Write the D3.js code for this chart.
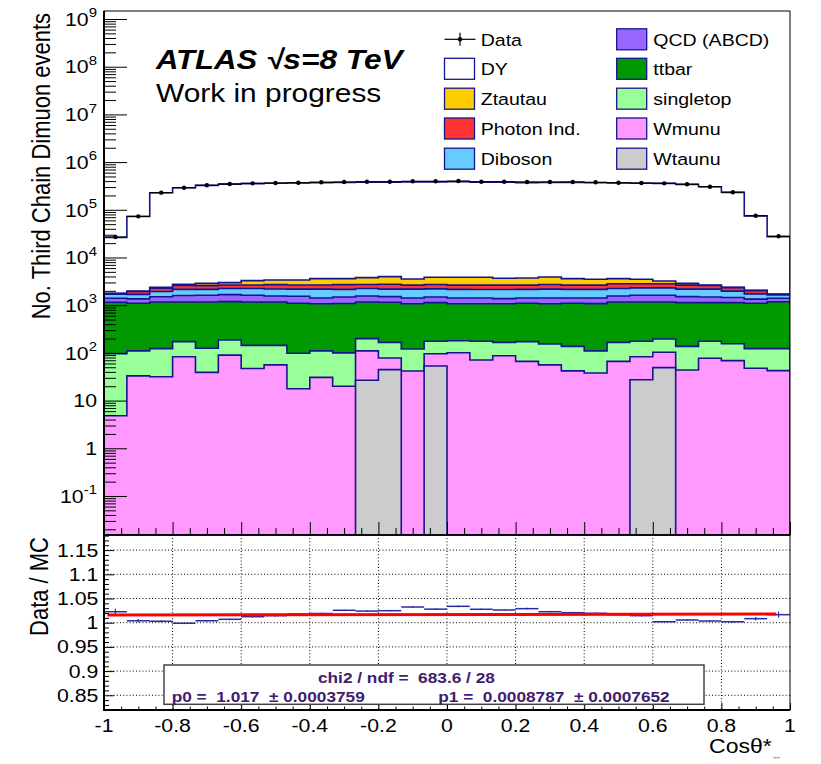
<!DOCTYPE html>
<html>
<head>
<meta charset="utf-8">
<script src="https://cdn.jsdelivr.net/npm/d3@7"></script>
<style>
  html, body { margin: 0; padding: 0; background: #fff; }
  svg { display: block; }
  text { font-family: "Liberation Sans", Arial, Helvetica, sans-serif; white-space: pre; }
</style>
</head>
<body>
<svg id="chart" width="821" height="764"></svg>
<script>
// ---- binning: 30 equal bins of cos(theta*) on [-1, 1] ----
const nBins = 30;
const binEdges = d3.range(nBins + 1).map(i => -1 + 2 * i / nBins);

// ---- events per bin ----
const dataCounts = [26900, 72900, 228600, 290600, 326000, 347500, 359000, 364700, 370000, 377500,
                    383000, 388500, 388500, 395500, 395500, 401500, 388500, 388500, 383000, 383000,
                    383000, 377500, 370000, 364700, 359000, 342700, 305000, 232900, 75100, 27800];
const dyCounts = [24530, 70630, 225550, 288210, 321830, 342120, 351330, 356110, 360080, 366860,
                  369840, 375620, 375130, 379540, 380890, 384530, 374190, 374920, 368490, 370600,
                  371630, 366830, 360360, 356000, 355070, 337920, 301280, 230070, 72430, 25630];
const ztautauCounts = [28, 47, 112, 130, 307, 317, 617, 682, 725, 949, 906, 1063, 1227, 914, 1124,
                       1211, 1211, 1030, 1089, 1186, 971, 857, 795, 681, 411, 244, 64, 38, 33, 27];
const photonCounts = [42, 248, 320, 458, 416, 413, 413, 509, 483, 483, 544, 478, 570, 461, 513,
                      479, 496, 496, 479, 548, 479, 479, 567, 493, 493, 461, 419, 363, 286, 53];
const dibosonCounts = [310, 330, 440, 553, 540, 576, 628, 626, 634, 753, 665, 679, 659, 753, 718,
                       735, 718, 762, 735, 753, 735, 735, 679, 702, 702, 659, 683, 518, 392, 243];
const qcdCounts = [245, 265, 331, 431, 444, 477, 444, 393, 440, 347, 400, 393, 361, 347, 356,
                   347, 347, 303, 321, 347, 321, 339, 393, 444, 444, 380, 356, 321, 244, 217];
const ttbarCounts = [1053, 985, 1044, 995, 1042, 1000, 1023, 1023, 997, 959, 986, 968, 983, 948, 955,
                     889, 894, 903, 923, 915, 958, 967, 1001, 992, 972, 993, 955, 974, 972, 1054];
const singletopCounts = [91.2, 77, 91.3, 89, 86, 96, 97, 88, 80.3, 79.3, 80, 89, 88, 79.3, 79,
                         79, 104, 79, 105.5, 98, 95, 72, 99.5, 92, 92, 93.1, 98, 87.3, 75.5, 80.6];
const wmunuCounts = [4.8, 33, 31.7, 83, 39, 90, 47, 56, 17.7, 30.7, 20, 83.4, 33.5, 41.7, 43,
                     101, 71, 87, 66.5, 56, 42, 38, 66.5, 55.6, 54, 43.9, 77, 68.7, 47.5, 42.4];
const wtaunuCounts = [0, 0, 0, 0, 0, 0, 0, 0, 0, 0, 0, 26.6, 44.5, 0, 53,
                      0, 0, 0, 0, 0, 0, 0, 0, 27.4, 49, 0, 0, 0, 0, 0];

// linear fit to Data/MC
const fitP0 = 1.017, fitP0Err = "0.0003759";
const fitP1 = 0.0008787, fitP1Err = "0.0007652";
const fitChi2 = "683.6", fitNdf = "28";
const fitRange = [-0.99, 0.96];

// axis ticks and labels
const yMainExponents = [-1, 0, 1, 2, 3, 4, 5, 6, 7, 8, 9];
const ratioTicks = [0.85, 0.9, 0.95, 1, 1.05, 1.1, 1.15];
const ratioTickLabels = ["0.85", "0.9", "0.95", "1", "1.05", "1.1", "1.15"];
const xTicks = [-1, -0.8, -0.6, -0.4, -0.2, 0, 0.2, 0.4, 0.6, 0.8, 1];
const xTickLabels = ["-1", "-0.8", "-0.6", "-0.4", "-0.2", "0", "0.2", "0.4", "0.6", "0.8", "1"];

// stack, bottom to top
const stackNames = ["Wtaunu", "Wmunu", "singletop", "ttbar", "QCD (ABCD)", "Diboson", "Photon Ind.", "Ztautau", "DY"];
const stackCounts = [wtaunuCounts, wmunuCounts, singletopCounts, ttbarCounts, qcdCounts,
                     dibosonCounts, photonCounts, ztautauCounts, dyCounts];

// legend: two columns, top to bottom
const legendCol1 = ["Data", "DY", "Ztautau", "Photon Ind.", "Diboson"];
const legendCol2 = ["QCD (ABCD)", "ttbar", "singletop", "Wmunu", "Wtaunu"];

// ---- styling ----
const fillColor = {
  "DY": "#ffffff", "Ztautau": "#ffcc00", "Photon Ind.": "#ff3333", "Diboson": "#66ccff",
  "QCD (ABCD)": "#9966ff", "ttbar": "#009900", "singletop": "#99ff99", "Wmunu": "#ff99ff",
  "Wtaunu": "#cccccc"
};
const histLine = "#14148f";
const SX = 1.15;              // horizontal glyph stretch of the canvas
const L = 104, R = 790, T = 11, MID = 535, B = 710;

const svg = d3.select("#chart");

const x = d3.scaleLinear().domain([-1, 1]).range([L, R]);
const yMain = d3.scaleLog().domain([Math.pow(10, -1.818), Math.pow(10, 9.168)]).range([MID, T]);
const yRatio = d3.scaleLinear().domain([0.8196, 1.1812]).range([B, MID]);
const yMin = yMain.domain()[0];

function htext(g, px, py, str, size, opts = {}) {
  const t = g.append("text")
    .attr("transform", `translate(${px},${py}) scale(${SX},1)`)
    .attr("font-size", size)
    .attr("text-anchor", opts.anchor || "start")
    .attr("fill", opts.fill || "#000")
    .text(str);
  if (opts.weight) t.attr("font-weight", opts.weight);
  if (opts.style) t.attr("font-style", opts.style);
  return t;
}

// clip paths
const defs = svg.append("defs");
defs.append("clipPath").attr("id", "clipMain").append("rect")
  .attr("x", L).attr("y", T).attr("width", R - L).attr("height", MID - T);
defs.append("clipPath").attr("id", "clipRatio").append("rect")
  .attr("x", L).attr("y", MID).attr("width", R - L).attr("height", B - MID);

// ---- stacked histograms ----
const cumulative = [];
stackCounts.forEach((arr, k) => {
  cumulative.push(arr.map((v, i) => v + (k > 0 ? cumulative[k - 1][i] : 0)));
});
const mcTotal = cumulative[cumulative.length - 1];

const clampY = v => yMain(Math.max(v, yMin));
function stepPoints(vals) {
  const pts = vals.map((v, i) => [binEdges[i], v]);
  pts.push([binEdges[nBins], vals[nBins - 1]]);
  return pts;
}
const areaGen = d3.area().curve(d3.curveStepAfter)
  .x(d => x(d[0])).y0(MID).y1(d => clampY(d[1]));
const lineGen = d3.line().curve(d3.curveStepAfter)
  .x(d => x(d[0])).y(d => clampY(d[1]));

const gStack = svg.append("g").attr("clip-path", "url(#clipMain)");
for (let k = stackNames.length - 1; k >= 0; k--) {
  const pts = stepPoints(cumulative[k]);
  gStack.append("path").attr("d", areaGen(pts)).attr("fill", fillColor[stackNames[k]]);
  const outline = [[binEdges[0], yMin], ...pts, [binEdges[nBins], yMin]];
  gStack.append("path").attr("d", lineGen(outline))
    .attr("fill", "none").attr("stroke", histLine).attr("stroke-width", 1.6);
}

// ---- data points ----
const gData = svg.append("g").attr("clip-path", "url(#clipMain)");
dataCounts.forEach((n, i) => {
  const xc = x((binEdges[i] + binEdges[i + 1]) / 2);
  gData.append("line").attr("x1", x(binEdges[i])).attr("x2", x(binEdges[i + 1]))
    .attr("y1", yMain(n)).attr("y2", yMain(n)).attr("stroke", "#000").attr("stroke-width", 1.2);
  const e = Math.sqrt(n);
  gData.append("line").attr("x1", xc).attr("x2", xc)
    .attr("y1", yMain(n - e)).attr("y2", yMain(n + e)).attr("stroke", "#000").attr("stroke-width", 1.2);
  gData.append("circle").attr("cx", xc).attr("cy", yMain(n)).attr("r", 2.2).attr("fill", "#000");
});

// ---- ratio panel grid ----
const gGrid = svg.append("g");
xTicks.filter(v => v > -1 && v < 1).forEach(v => {
  gGrid.append("line").attr("x1", x(v)).attr("x2", x(v)).attr("y1", MID).attr("y2", B)
    .attr("stroke", "#000").attr("stroke-width", 1).attr("stroke-dasharray", "1,2.2");
});
ratioTicks.forEach(v => {
  gGrid.append("line").attr("x1", L).attr("x2", R).attr("y1", yRatio(v)).attr("y2", yRatio(v))
    .attr("stroke", "#000").attr("stroke-width", 1).attr("stroke-dasharray", "1,2.2");
});

// ---- ratio points ----
const gRatio = svg.append("g").attr("clip-path", "url(#clipRatio)");
const ratioColor = "#2a2aa6";
dataCounts.forEach((n, i) => {
  const r = n / mcTotal[i];
  const e = Math.sqrt(n) / mcTotal[i];
  const xc = x((binEdges[i] + binEdges[i + 1]) / 2);
  gRatio.append("line").attr("x1", x(binEdges[i])).attr("x2", x(binEdges[i + 1]))
    .attr("y1", yRatio(r)).attr("y2", yRatio(r)).attr("stroke", ratioColor).attr("stroke-width", 1.5);
  gRatio.append("line").attr("x1", xc).attr("x2", xc)
    .attr("y1", yRatio(r - e)).attr("y2", yRatio(r + e)).attr("stroke", ratioColor).attr("stroke-width", 1.2);
});
// fit line
gRatio.append("line")
  .attr("x1", x(fitRange[0])).attr("x2", x(fitRange[1]))
  .attr("y1", yRatio(fitP0 + fitP1 * fitRange[0])).attr("y2", yRatio(fitP0 + fitP1 * fitRange[1]))
  .attr("stroke", "#ff0000").attr("stroke-width", 3);

// ---- frames ----
svg.append("rect").attr("x", L).attr("y", T).attr("width", R - L).attr("height", MID - T)
  .attr("fill", "none").attr("stroke", "#000").attr("stroke-width", 1);
svg.append("rect").attr("x", L).attr("y", MID).attr("width", R - L).attr("height", B - MID)
  .attr("fill", "none").attr("stroke", "#000").attr("stroke-width", 1);
svg.append("line").attr("x1", L).attr("x2", L).attr("y1", T).attr("y2", B)
  .attr("stroke", "#000").attr("stroke-width", 2);
svg.append("line").attr("x1", L - 1).attr("x2", R).attr("y1", B).attr("y2", B)
  .attr("stroke", "#000").attr("stroke-width", 2);
svg.append("line").attr("x1", L).attr("x2", R).attr("y1", MID).attr("y2", MID)
  .attr("stroke", "#000").attr("stroke-width", 1.5);

// ---- axes ticks ----
function tickAxis(axis, tx, ty) {
  const g = svg.append("g").attr("transform", `translate(${tx},${ty})`).call(axis);
  g.select(".domain").remove();
  g.selectAll(".tick line").attr("stroke", "#000").attr("stroke-width", 1);
  return g;
}
const yMajors = yMainExponents.map(e => Math.pow(10, e));
const yMinors = [];
for (let d = -2; d <= 9; d++) for (let m = 2; m <= 9; m++) {
  const v = m * Math.pow(10, d);
  if (v >= yMain.domain()[0] && v <= yMain.domain()[1]) yMinors.push(v);
}
tickAxis(d3.axisRight(yMain).tickValues(yMajors).tickSizeInner(23).tickSizeOuter(0).tickFormat(""), L, 0);
tickAxis(d3.axisRight(yMain).tickValues(yMinors).tickSizeInner(12).tickSizeOuter(0).tickFormat(""), L, 0);

const xMinors = d3.range(-19, 20).map(i => i * 0.05).filter(v => Math.abs(Math.round(v * 100) % 20) !== 0);
tickAxis(d3.axisTop(x).tickValues(xTicks).tickSizeInner(13).tickSizeOuter(0).tickFormat(""), 0, MID);
tickAxis(d3.axisTop(x).tickValues(xMinors).tickSizeInner(7).tickSizeOuter(0).tickFormat(""), 0, MID);
tickAxis(d3.axisTop(x).tickValues(xTicks).tickSizeInner(7).tickSizeOuter(0).tickFormat(""), 0, B);
tickAxis(d3.axisTop(x).tickValues(xMinors).tickSizeInner(3.5).tickSizeOuter(0).tickFormat(""), 0, B);

const rMinors = d3.range(82, 119).map(i => i / 100).filter(v => Math.round(v * 100) % 5 !== 0);
tickAxis(d3.axisRight(yRatio).tickValues(ratioTicks).tickSizeInner(10).tickSizeOuter(0).tickFormat(""), L, 0);
tickAxis(d3.axisRight(yRatio).tickValues(rMinors).tickSizeInner(5).tickSizeOuter(0).tickFormat(""), L, 0);

// ---- tick labels ----
const gLab = svg.append("g");
yMainExponents.forEach(e => {
  const yy = yMain(Math.pow(10, e)) + 6.7;
  if (e === 0) { htext(gLab, 97, yy, "1", 18.5, { anchor: "end" }); return; }
  if (e === 1) { htext(gLab, 97, yy, "10", 18.5, { anchor: "end" }); return; }
  const t = htext(gLab, 97, yy, "", 18.5, { anchor: "end" });
  t.append("tspan").text("10");
  t.append("tspan").attr("font-size", 13).attr("dy", -8.5).text(String(e));
});
ratioTicks.forEach((v, i) => {
  htext(gLab, 98.3, yRatio(v) + 6.5, ratioTickLabels[i], 18.5, { anchor: "end" });
});
xTicks.forEach((v, i) => {
  htext(gLab, x(v), 732, xTickLabels[i], 18.5, { anchor: "middle" });
});

// ---- axis titles ----
svg.append("text")
  .attr("transform", `translate(50,13) rotate(-90) scale(1,${SX})`)
  .attr("text-anchor", "end").attr("font-size", 22)
  .text("No. Third Chain Dimuon events");
svg.append("text")
  .attr("transform", `translate(48,537) rotate(-90) scale(1,${SX})`)
  .attr("text-anchor", "end").attr("font-size", 22)
  .text("Data / MC");
htext(svg, 771.7, 752.7, "Cosθ*", 20, { anchor: "end" });
htext(svg, 773, 762, "''''", 8, { fill: "#555" });

// ---- ATLAS label ----
htext(svg, 156, 69, "ATLAS", 27, { weight: "bold", style: "italic" });
htext(svg, 266, 69, "√s=8 TeV", 27.5, { weight: "bold", style: "italic" });
htext(svg, 156, 101.7, "Work in progress", 26);

// ---- legend ----
const gLeg = svg.append("g");
const rowY = [39.3, 68.8, 98.7, 128.5, 158.7];
function legendEntry(name, bx, tx, cy) {
  if (name === "Data") {
    gLeg.append("line").attr("x1", bx).attr("x2", bx + 31).attr("y1", cy).attr("y2", cy)
      .attr("stroke", "#000").attr("stroke-width", 1.2);
    gLeg.append("line").attr("x1", bx + 15.5).attr("x2", bx + 15.5).attr("y1", cy - 6.5).attr("y2", cy + 6.5)
      .attr("stroke", "#000").attr("stroke-width", 1.2);
    gLeg.append("circle").attr("cx", bx + 15.5).attr("cy", cy).attr("r", 2.2).attr("fill", "#000");
  } else {
    gLeg.append("rect").attr("x", bx).attr("y", cy - 10.5).attr("width", 30).attr("height", 21)
      .attr("fill", fillColor[name]).attr("stroke", histLine).attr("stroke-width", 1.3);
  }
  htext(gLeg, tx, cy + 6.2, name, 17);
}
legendCol1.forEach((n, i) => legendEntry(n, 444.5, 480.7, rowY[i]));
legendCol2.forEach((n, i) => legendEntry(n, 616.7, 653.3, rowY[i]));

// ---- fit result box ----
const gFit = svg.append("g");
gFit.append("rect").attr("x", 164).attr("y", 665).attr("width", 540).attr("height", 39.3)
  .attr("fill", "#fff").attr("stroke", "#444").attr("stroke-width", 1.5);
const fitInk = "#40206e";
htext(gFit, 318, 682.7, `chi2 / ndf =  ${fitChi2} / ${fitNdf}`, 15, { weight: "bold", fill: fitInk });
htext(gFit, 171.7, 701.7, `p0 =  ${fitP0}  ± ${fitP0Err}`, 15, { weight: "bold", fill: fitInk });
htext(gFit, 438.3, 701.7, `p1 =  ${fitP1}  ± ${fitP1Err}`, 15, { weight: "bold", fill: fitInk });
</script>
</body>
</html>
